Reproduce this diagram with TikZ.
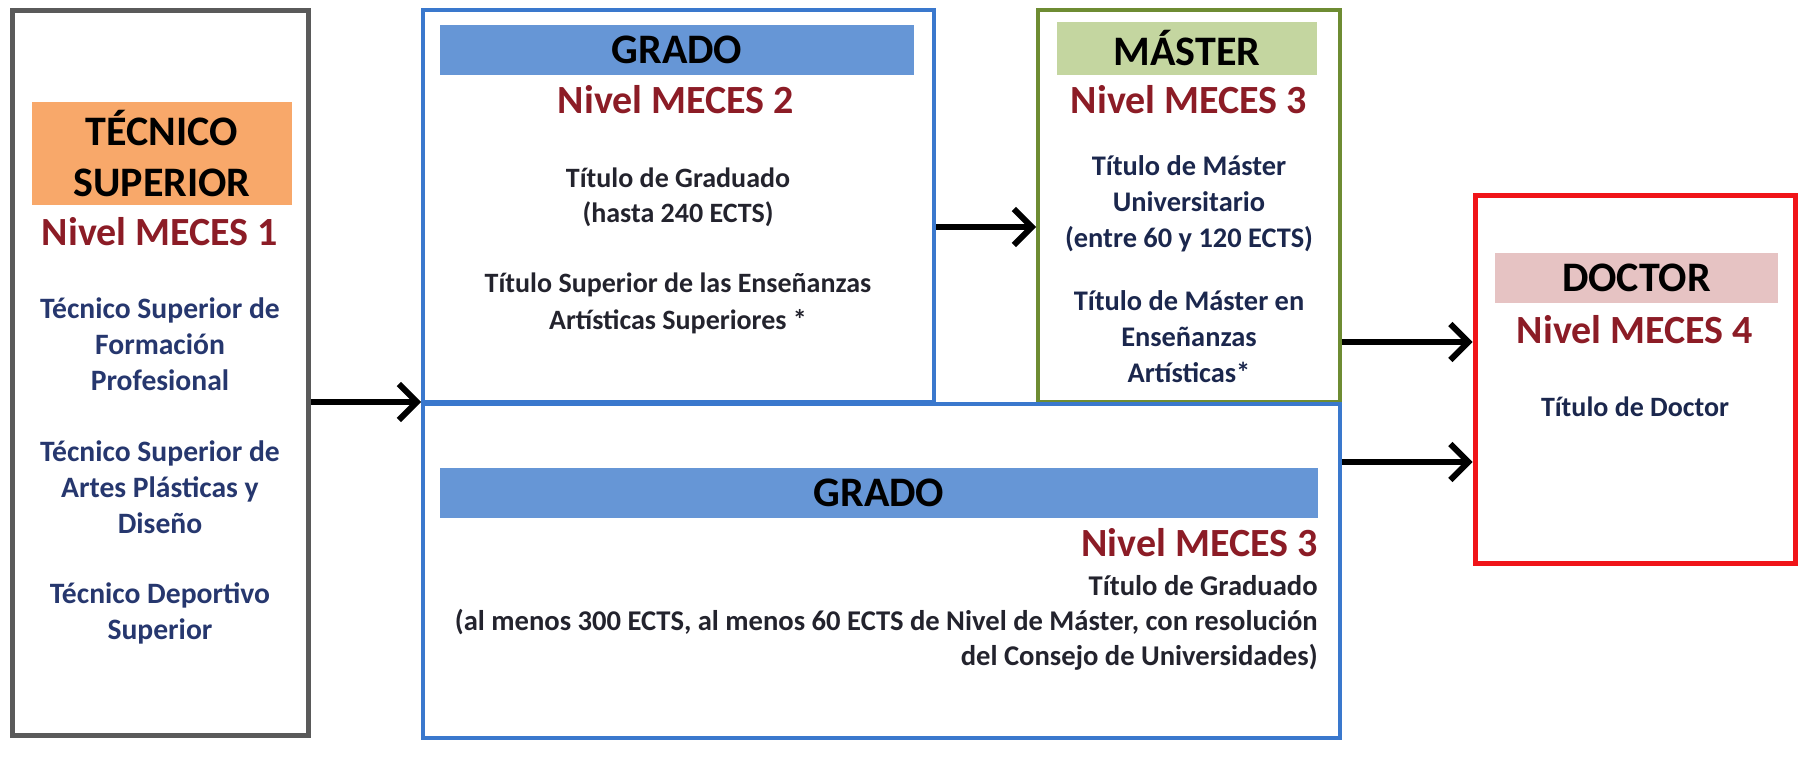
\documentclass[tikz,border=0pt]{standalone}
\usepackage{fontspec}
\setmainfont{Carlito}
\usepackage{xcolor}
\usepackage{tikz}
\usetikzlibrary{arrows.meta}

\definecolor{tecgray}{RGB}{90,90,90}
\definecolor{tecorange}{RGB}{248,168,106}
\definecolor{gradoblue}{RGB}{58,120,205}
\definecolor{gradofill}{RGB}{102,150,214}
\definecolor{mastergreen}{RGB}{110,140,50}
\definecolor{masterfill}{RGB}{196,214,160}
\definecolor{docred}{RGB}{240,20,25}
\definecolor{docfill}{RGB}{230,195,195}
\definecolor{nivelred}{RGB}{140,28,38}
\definecolor{textnavy}{RGB}{38,55,110}
\definecolor{textdark}{RGB}{35,35,45}

\tikzset{
  frame/.style={draw, line width=2pt, inner sep=0pt},
  hdr/.style={inner sep=0pt, align=center, font=\fontsize{21}{25.5}\selectfont\bfseries, text=black},
  nivel/.style={inner sep=0pt, font=\fontsize{20}{24}\selectfont\bfseries, text=nivelred},
  body/.style={inner sep=0pt, align=center, font=\fontsize{14.2}{18}\selectfont\bfseries, text=textdark},
  arrow/.style={line width=3pt, -{Straight Barb[length=9pt,width=18pt]}}
}

\begin{document}
\begin{tikzpicture}[x=0.5pt,y=-0.5pt]
  \useasboundingbox (0,0) rectangle (1814,760);

  \node[frame, draw=tecgray, line width=2.5pt, minimum width=148pt, minimum height=362.5pt] (tec) at (160,372.5) {};
  \node[frame, draw=gradoblue, minimum width=255.5pt, minimum height=196pt] (grado1) at (678.5,206) {};
  \node[frame, draw=mastergreen, minimum width=151pt, minimum height=196pt] (master) at (1189,206) {};
  \node[frame, draw=gradoblue, minimum width=458.5pt, minimum height=167pt] (grado2) at (881.5,571) {};
  \node[frame, draw=docred, line width=2.5pt, minimum width=160pt, minimum height=184pt] (doctor) at (1635,379) {};

  \node[hdr, fill=tecorange, minimum width=130pt, minimum height=51.5pt] (techdr) at (162,153.5) {TÉCNICO\\SUPERIOR};
  \node[nivel] (tecniv) at (160,232) {Nivel MECES 1};
  \node[body, text=textnavy, font=\fontsize{14.8}{18}\selectfont\bfseries] (tec1) at (160,344) {Técnico Superior de\\Formación\\Profesional};
  \node[body, text=textnavy, font=\fontsize{14.8}{18}\selectfont\bfseries] (tec2) at (160,487.5) {Técnico Superior de\\Artes Plásticas y\\Diseño};
  \node[body, text=textnavy, font=\fontsize{14.8}{18}\selectfont\bfseries] (tec3) at (160,613.5) {Técnico Deportivo\\Superior};

  \node[hdr, fill=gradofill, minimum width=237pt, minimum height=25pt] (g1hdr) at (677,50) {GRADO};
  \node[nivel] (g1niv) at (676,100) {Nivel MECES 2};
  \node[body, font=\fontsize{14}{17.5}\selectfont\bfseries] (g1a) at (678,197.5) {Título de Graduado\\(hasta 240 ECTS)};
  \node[body, font=\fontsize{14}{18.5}\selectfont\bfseries] (g1b) at (678,303.5) {Título Superior de las Enseñanzas\\Artísticas Superiores *};

  \node[hdr, fill=masterfill, minimum width=130pt, minimum height=26.5pt] (mhdr) at (1187,48.5) {MÁSTER};
  \node[nivel] (mniv) at (1189,100) {Nivel MECES 3};
  \node[body, text=textnavy!70!black] (ma) at (1189,203.5) {Título de Máster\\Universitario\\(entre 60 y 120 ECTS)};
  \node[body, text=textnavy!70!black] (mb) at (1189,337) {Título de Máster en\\Enseñanzas\\Artísticas*};

  \node[hdr, fill=gradofill, minimum width=439pt, minimum height=25pt] (g2hdr) at (879,493) {GRADO};
  \node[nivel, anchor=east] (g2niv) at (1318,543) {Nivel MECES 3};
  \node[body, align=right, anchor=east, font=\fontsize{14.3}{17.5}\selectfont\bfseries] (g2a) at (1318,623)
    {Título de Graduado\\(al menos 300 ECTS, al menos 60 ECTS de Nivel de Máster, con resolución\\del Consejo de Universidades)};

  \node[hdr, fill=docfill, minimum width=141.5pt, minimum height=25pt] (dhdr) at (1636.5,278) {DOCTOR};
  \node[nivel] (dniv) at (1635,330) {Nivel MECES 4};
  \node[body, text=textnavy!70!black, font=\fontsize{14}{18}\selectfont\bfseries] (da) at (1635,407) {Título de Doctor};

  \coordinate (g1m) at ([yshift=-10.5pt]grado1.east);
  \coordinate (md) at ([yshift=-68pt]master.east);
  \coordinate (g2d) at ([yshift=54.5pt]grado2.east);

  \draw[arrow] (tec.east |- grado2.north) -- (grado2.north west);
  \draw[arrow] (g1m) -- (g1m -| master.west);
  \draw[arrow] (md) -- (md -| doctor.west);
  \draw[arrow] (g2d) -- (g2d -| doctor.west);
\end{tikzpicture}
\end{document}
